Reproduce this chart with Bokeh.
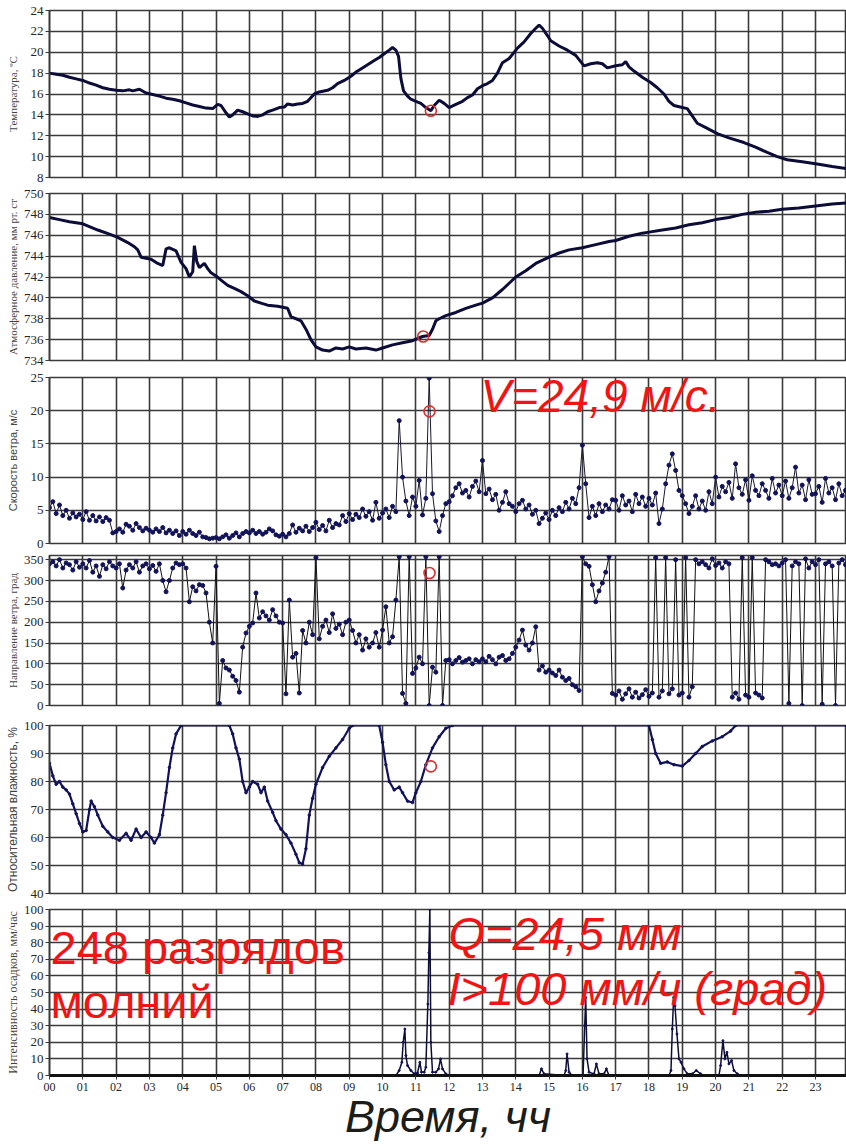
from bokeh.plotting import figure
from bokeh.layouts import column
from bokeh.models import Range1d, FixedTicker, Label
from bokeh.embed import file_html
from bokeh.resources import INLINE

# ---------------- data ----------------
HOURS = list(range(0, 25))
HOUR_LABELS = ["00", "01", "02", "03", "04", "05", "06", "07", "08", "09", "10", "11",
               "12", "13", "14", "15", "16", "17", "18", "19", "20", "21", "22", "23", "24"]

TEMP_T = [0.0, 0.2, 0.4, 0.6, 0.8, 1.0, 1.2, 1.4, 1.6, 1.8, 2.0, 2.2, 2.4, 2.5, 2.7, 2.9, 3.1, 3.3,
          3.5, 3.7, 3.9, 4.1, 4.3, 4.5, 4.7, 4.9, 5.05, 5.15, 5.3, 5.4, 5.5, 5.65, 5.8, 5.95, 6.1,
          6.25, 6.4, 6.55, 6.7, 6.9, 7.05, 7.15, 7.3, 7.45, 7.6, 7.75, 7.95, 8.1, 8.35, 8.5, 8.65,
          8.85, 9.05, 9.2, 9.35, 9.55, 9.75, 9.9, 10.05, 10.2, 10.3, 10.4, 10.48, 10.55, 10.63,
          10.75, 10.85, 11.0, 11.15, 11.3, 11.45, 11.55, 11.7, 11.85, 12.0, 12.2, 12.4, 12.55, 12.7,
          12.85, 13.0, 13.15, 13.3, 13.45, 13.6, 13.8, 14.05, 14.25, 14.45, 14.6, 14.7, 14.8, 14.95,
          15.05, 15.3, 15.55, 15.8, 16.05, 16.25, 16.45, 16.6, 16.75, 17.0, 17.2, 17.3, 17.4, 17.55,
          17.8, 18.05, 18.25, 18.45, 18.6, 18.75, 19.0, 19.15, 19.3, 19.45, 19.75, 20.05, 20.4,
          20.85, 21.2, 21.55, 21.85, 22.15, 22.6, 23.05, 23.5, 23.93]
TEMP_V = [18.0, 17.9, 17.8, 17.6, 17.45, 17.3, 17.05, 16.85, 16.6, 16.45, 16.35, 16.3, 16.4, 16.3,
          16.45, 16.1, 15.95, 15.8, 15.6, 15.5, 15.35, 15.15, 14.95, 14.8, 14.65, 14.6, 15.0, 14.9,
          14.2, 13.8, 14.0, 14.45, 14.3, 14.1, 13.9, 13.85, 14.0, 14.3, 14.45, 14.7, 14.75, 15.05,
          14.95, 15.05, 15.1, 15.3, 16.0, 16.2, 16.35, 16.6, 17.0, 17.3, 17.7, 18.1, 18.4, 18.8,
          19.2, 19.5, 19.85, 20.2, 20.45, 20.2, 19.6, 17.5, 16.3, 15.8, 15.5, 15.3, 15.1, 14.7,
          14.4, 14.9, 15.4, 15.1, 14.7, 15.0, 15.3, 15.65, 15.9, 16.5, 16.8, 17.0, 17.3, 18.0,
          19.0, 19.4, 20.4, 21.0, 21.8, 22.3, 22.6, 22.3, 21.6, 21.1, 20.6, 20.2, 19.7, 18.7,
          18.9, 19.0, 18.9, 18.5, 18.7, 18.8, 19.1, 18.6, 18.2, 17.6, 17.1, 16.6, 16.0, 15.3,
          14.9, 14.7, 14.6, 13.9, 13.2, 12.7, 12.2, 11.8, 11.35, 10.9, 10.4, 10.0, 9.7, 9.5,
          9.3, 9.05, 8.85]

PRES_T = [0.0, 0.3, 0.6, 1.0, 1.45, 1.8, 2.05, 2.35, 2.55, 2.65, 2.75, 3.05, 3.25, 3.4, 3.5, 3.6,
          3.8, 3.95, 4.1, 4.2, 4.3, 4.35, 4.42, 4.5, 4.65, 4.75, 4.85, 5.0, 5.15, 5.35, 5.55, 5.75,
          5.95, 6.15, 6.35, 6.55, 6.85, 7.15, 7.25, 7.55, 7.7, 7.85, 8.0, 8.2, 8.4, 8.6, 8.8, 9.0,
          9.2, 9.5, 9.8, 10.0, 10.3, 10.6, 10.9, 11.2, 11.4, 11.5, 11.6, 11.7, 11.9, 12.2, 12.5,
          12.8, 13.0, 13.3, 13.6, 13.8, 14.0, 14.3, 14.6, 15.0, 15.3, 15.6, 16.0, 16.4, 16.8, 17.0,
          17.4, 17.8, 18.0, 18.4, 18.8, 19.2, 19.6, 20.0, 20.4, 20.8, 21.2, 21.6, 22.0, 22.5, 23.0,
          23.5, 23.93]
PRES_V = [747.7, 747.5, 747.3, 747.1, 746.5, 746.1, 745.8, 745.3, 744.9, 744.6, 743.9, 743.7,
          743.3, 743.1, 744.7, 744.8, 744.5, 743.4, 742.8, 742.0, 742.5, 745.0, 743.5, 742.9,
          743.3, 742.8, 742.4, 742.1, 741.7, 741.2, 740.9, 740.6, 740.2, 739.7, 739.5, 739.3,
          739.2, 739.0, 738.2, 737.8, 737.0, 736.0, 735.3, 735.0, 734.9, 735.2, 735.1, 735.3,
          735.1, 735.2, 735.0, 735.2, 735.5, 735.7, 735.9, 736.3, 736.4, 737.0, 737.8, 738.0,
          738.3, 738.6, 739.0, 739.3, 739.5, 740.0, 740.8, 741.4, 742.0, 742.6, 743.3, 743.9,
          744.3, 744.6, 744.8, 745.1, 745.4, 745.5, 745.9, 746.2, 746.3, 746.5, 746.7, 747.0,
          747.2, 747.5, 747.7, 748.0, 748.2, 748.3, 748.5, 748.6, 748.8, 749.0, 749.1]

# wind speed, m/s : ten readings per hour
WIND_SPEED = [
    [5.4, 6.3, 4.5, 5.8, 4.2, 5.0, 3.8, 4.6, 4.0, 4.4],
    [3.6, 4.8, 3.5, 4.2, 3.4, 4.0, 3.3, 3.9, 3.5, 1.6],
    [1.8, 2.2, 1.7, 2.9, 2.6, 2.0, 3.0, 2.4, 1.9, 2.3],
    [2.0, 1.7, 2.2, 1.8, 2.4, 1.6, 2.0, 1.5, 1.9, 1.2],
    [1.8, 1.4, 2.0, 1.5, 1.2, 1.7, 1.0, 0.9, 0.7, 0.8],
    [0.9, 0.7, 1.0, 1.3, 0.8, 1.2, 1.6, 1.0, 1.5, 1.8],
    [1.6, 2.0, 1.5, 1.8, 1.4, 1.7, 2.2, 1.9, 1.3, 1.1],
    [1.4, 1.0, 1.5, 2.8, 1.7, 2.3, 1.9, 2.6, 1.8, 2.4],
    [3.2, 2.1, 2.7, 1.9, 3.5, 2.4, 3.0, 2.8, 4.2, 3.3],
    [4.5, 3.6, 4.4, 3.9, 5.2, 4.1, 4.8, 3.5, 6.2, 3.8],
    [4.6, 5.2, 3.9, 5.6, 4.8, 18.5, 10.0, 6.4, 4.2, 7.0],
    [5.6, 9.5, 4.3, 6.8, 24.9, 7.5, 3.4, 1.8, 4.2, 6.0],
    [6.3, 7.2, 8.4, 9.0, 7.6, 8.0, 7.0, 8.6, 9.4, 7.8],
    [12.5, 7.5, 8.2, 6.6, 7.4, 5.0, 6.2, 7.8, 6.0, 5.6],
    [4.8, 6.0, 6.5, 5.2, 5.8, 4.4, 5.0, 3.0, 3.8, 4.6],
    [3.6, 5.0, 4.2, 5.4, 4.8, 6.2, 5.2, 6.8, 6.0, 8.4],
    [14.8, 9.0, 3.9, 5.6, 4.2, 6.0, 4.8, 5.8, 5.2, 6.6],
    [6.5, 5.0, 7.2, 5.8, 6.4, 4.8, 7.4, 6.0, 7.0, 5.6],
    [6.8, 5.8, 7.6, 3.0, 5.2, 9.0, 11.8, 13.5, 11.0, 8.0],
    [7.2, 6.0, 4.5, 5.6, 7.2, 5.2, 6.4, 5.0, 7.8, 6.0],
    [10.0, 7.0, 8.6, 7.8, 9.2, 6.8, 12.0, 8.4, 7.4, 9.6],
    [6.5, 10.2, 8.0, 7.2, 9.0, 8.0, 6.8, 9.8, 7.6, 8.8],
    [7.2, 9.4, 6.8, 8.4, 11.5, 7.6, 8.8, 6.6, 9.6, 7.4],
    [7.5, 8.6, 6.2, 9.8, 7.6, 8.4, 6.6, 9.0, 7.2, 8.0],
]

# wind direction, degrees : ten readings per hour
WIND_DIR = [
    [340, 345, 335, 350, 330, 342, 338, 325, 345, 332],
    [340, 330, 348, 320, 335, 310, 338, 328, 345, 335],
    [330, 340, 282, 325, 338, 330, 345, 320, 335, 340],
    [328, 336, 322, 340, 300, 273, 300, 330, 342, 338],
    [340, 330, 249, 285, 275, 290, 288, 270, 200, 150],
    [334, 5, 108, 90, 85, 70, 60, 32, 140, 174],
    [190, 198, 270, 210, 225, 215, 205, 230, 215, 200],
    [198, 28, 253, 116, 125, 30, 180, 150, 200, 170],
    [355, 160, 190, 205, 175, 220, 185, 195, 170, 200],
    [205, 180, 150, 170, 133, 160, 140, 150, 175, 140],
    [181, 237, 150, 165, 253, 357, 29, 5, 357, 77],
    [90, 116, 100, 357, 0, 92, 80, 357, 0, 108],
    [110, 100, 108, 115, 104, 108, 112, 100, 110, 105],
    [112, 105, 118, 110, 100, 116, 120, 108, 112, 125],
    [140, 157, 181, 145, 133, 150, 189, 85, 95, 80],
    [85, 78, 72, 85, 68, 60, 65, 50, 45, 36],
    [357, 340, 334, 290, 249, 275, 294, 320, 357, 29],
    [25, 35, 15, 28, 40, 20, 32, 18, 26, 38],
    [22, 30, 355, 20, 35, 355, 28, 40, 350, 25],
    [30, 355, 20, 45, 350, 340, 345, 338, 330, 352],
    [336, 342, 330, 345, 340, 20, 30, 15, 355, 25],
    [20, 355, 30, 25, 18, 350, 345, 338, 340, 335],
    [342, 350, 5, 335, 345, 340, 0, 352, 330, 345],
    [338, 350, 3, 340, 345, 335, 0, 342, 350, 338],
]

HUM_T = [0.0, 0.1, 0.2, 0.3, 0.4, 0.5, 0.6, 0.7, 0.8, 0.9, 1.0, 1.1, 1.2, 1.25, 1.35, 1.45, 1.6,
         1.75, 1.9, 2.1, 2.3, 2.45, 2.6, 2.75, 2.9, 3.05, 3.15, 3.3, 3.4, 3.5, 3.6, 3.7, 3.8, 3.95,
         5.4, 5.5, 5.6, 5.7, 5.8, 5.9, 6.0, 6.1, 6.25, 6.35, 6.45, 6.55, 6.7, 6.8, 6.95, 7.1, 7.25,
         7.4, 7.5, 7.6, 7.7, 7.8, 7.9, 8.0, 8.2, 8.4, 8.6, 8.8, 9.0, 9.1, 9.9, 10.0, 10.1, 10.2,
         10.35, 10.5, 10.6, 10.75, 10.9, 11.0, 11.15, 11.3, 11.5, 11.7, 11.9, 12.1, 18.0, 18.1,
         18.2, 18.35, 18.55, 18.75, 19.0, 19.2, 19.4, 19.6, 19.9, 20.2, 20.45, 20.6, 23.93]
HUM_V = [86.5, 82, 79, 80, 78, 77, 75.5, 72, 68.5, 65, 62, 62.5, 70, 73, 71, 68, 64, 62, 60, 59,
         61.5, 59, 63, 60, 62, 60, 58, 61, 68, 76, 85, 92, 97, 100, 100, 97, 92, 88, 80, 76, 78,
         80, 79, 76, 78, 73, 69, 66, 63, 61, 58, 54, 51, 50.5, 56, 68, 74, 79, 85, 89, 92, 95, 99,
         100, 100, 94, 86, 80, 77, 78, 76, 73, 72.5, 76, 80, 86, 92, 96, 99, 100, 100, 95, 90,
         86.5, 87, 86, 85.5, 87.5, 90, 92.5, 94.5, 96, 98, 100, 100]

RAIN_T = [0, 10.4, 10.5, 10.58, 10.62, 10.67, 10.7, 10.75, 10.85, 10.95, 11.05, 11.12, 11.17,
          11.25, 11.3, 11.36, 11.39, 11.42, 11.45, 11.5, 11.6, 11.68, 11.74, 11.8, 11.9, 12.0,
          14.7, 14.77, 14.85, 15.45, 15.5, 15.54, 15.6, 15.7, 16.02, 16.07, 16.1, 16.14, 16.2,
          16.35, 16.42, 16.5, 16.65, 16.72, 16.8, 18.6, 18.66, 18.7, 18.74, 18.78, 18.84, 18.9,
          18.96, 19.05, 19.15, 19.3, 19.42, 19.55, 19.65, 20.1, 20.15, 20.22, 20.28, 20.34, 20.4,
          20.48, 20.55, 20.65, 20.8, 23.93]
RAIN_V = [0, 0, 3, 8, 20, 28, 12, 6, 3, 1, 1.5, 8, 2, 2, 5, 43, 74, 100, 20, 2, 2, 4, 10, 4, 1, 0,
          0, 4, 1, 0, 3, 13, 2, 0, 0, 30, 47, 10, 2, 1, 7, 1, 1, 4, 0, 0, 3, 28, 47, 42, 25, 10,
          8, 4, 1, 1, 3, 1, 0, 0, 6, 21, 10, 14, 7, 9, 3, 1, 0, 0]

# red markers (moment of the squall)
MARK_T = [11.45, 11.22, 11.41, 11.41, 11.45]
MARK_V = [14.4, 736.3, 19.9, 318, 85.4]

# ---------------- style ----------------
GRID = "#3a3a3a"
NAVY = "#12125a"
DARK = "#0c0c38"
RED = "#f01414"
SERIF = "Liberation Serif"
SANS = "Liberation Sans"

X_RANGE = Range1d(0, 23.93)


def make_fig(height, top, bottom, yr, yticks, ylabel, lab_size, lab_standoff, lab_font=SERIF):
    p = figure(width=846, height=height, x_range=X_RANGE, y_range=Range1d(*yr),
               output_backend="svg", toolbar_location=None,
               min_border_left=49, min_border_right=0,
               min_border_top=top, min_border_bottom=bottom)
    p.background_fill_color = "white"
    p.border_fill_color = "white"
    p.outline_line_color = GRID
    p.outline_line_width = 1.6
    p.xgrid.ticker = FixedTicker(ticks=HOURS)
    p.ygrid.ticker = FixedTicker(ticks=yticks)
    for g in (p.xgrid, p.ygrid):
        g.grid_line_color = GRID
        g.grid_line_width = 1.6
        g.grid_line_alpha = 1.0
    p.yaxis.ticker = FixedTicker(ticks=yticks)
    p.yaxis.axis_line_color = GRID
    p.yaxis.axis_line_width = 1.6
    p.yaxis.major_tick_line_color = GRID
    p.yaxis.major_tick_line_width = 1.2
    p.yaxis.major_tick_out = 4
    p.yaxis.major_tick_in = 0
    p.yaxis.minor_tick_line_color = None
    p.yaxis.major_label_standoff = 2
    p.yaxis.major_label_text_font = SERIF
    p.yaxis.major_label_text_font_size = "13px"
    p.yaxis.major_label_text_color = "#262626"
    p.yaxis.axis_label = ylabel
    p.yaxis.axis_label_text_font = lab_font
    p.yaxis.axis_label_text_font_size = "%dpx" % lab_size
    p.yaxis.axis_label_text_font_style = "normal"
    p.yaxis.axis_label_text_color = "#444444"
    p.yaxis.axis_label_standoff = lab_standoff
    return p


# 1 temperature
p1 = make_fig(185, 10, 8, (8, 24), [8, 10, 12, 14, 16, 18, 20, 22, 24],
              "Температура, ºС", 11, 9)
p1.xaxis.visible = False
p1.line(TEMP_T, TEMP_V, line_color=DARK, line_width=3)

# 2 pressure
p2 = make_fig(183, 8, 8, (734, 750), [734, 736, 738, 740, 742, 744, 746, 748, 750],
              "Атмосферное давление, мм рт. ст", 11, 2)
p2.xaxis.visible = False
p2.line(PRES_T, PRES_V, line_color=DARK, line_width=3)

# 3 wind speed
ws_t = [h + k / 10 for h in range(24) for k in range(10)]
ws_v = [v for row in WIND_SPEED for v in row]
p3 = make_fig(181, 9, 6, (0, 25), [0, 5, 10, 15, 20, 25],
              "Скорость ветра, м/с", 11, 9, SANS)
p3.xaxis.visible = False
p3.line(ws_t, ws_v, line_color="#181830", line_width=1)
p3.scatter(ws_t, ws_v, size=4, fill_color=NAVY, line_color=NAVY)

# 4 wind direction
wd_v = [v for row in WIND_DIR for v in row]
p4 = make_fig(166, 6, 10, (0, 360), [0, 50, 100, 150, 200, 250, 300, 350],
              "Направление ветра, град", 11, 2)
p4.xaxis.visible = False
p4.line(ws_t, wd_v, line_color="#111111", line_width=1)
p4.scatter(ws_t, wd_v, size=4, fill_color=NAVY, line_color=NAVY)

# 5 humidity
p5 = make_fig(186, 10, 8, (40, 100), [40, 50, 60, 70, 80, 90, 100],
              "Относительная влажность, %", 12, 1, SANS)
p5.xaxis.visible = False
p5.line(HUM_T, HUM_V, line_color=NAVY, line_width=2.2)
p5.scatter(HUM_T, HUM_V, size=2.5, fill_color=NAVY, line_color=NAVY)

# 6 precipitation
p6 = make_fig(245, 8, 71, (0, 100), [0, 10, 20, 30, 40, 50, 60, 70, 80, 90, 100],
              "Интенсивность осадков, мм/час", 12, 1)
p6.xaxis.ticker = FixedTicker(ticks=HOURS)
p6.xaxis.major_label_overrides = {h: lab for h, lab in zip(HOURS, HOUR_LABELS)}
p6.xaxis.major_label_text_font = SERIF
p6.xaxis.major_label_text_font_size = "12px"
p6.xaxis.major_label_text_color = "#262626"
p6.xaxis.major_label_standoff = 3
p6.xaxis.major_tick_out = 4
p6.xaxis.major_tick_in = 0
p6.xaxis.minor_tick_line_color = None
p6.xaxis.axis_line_color = "#111111"
p6.xaxis.axis_line_width = 3
p6.xaxis.major_tick_line_color = GRID
p6.xaxis.axis_label = "Время, чч"
p6.xaxis.axis_label_text_font = SANS
p6.xaxis.axis_label_text_font_size = "45px"
p6.xaxis.axis_label_text_font_style = "italic"
p6.xaxis.axis_label_text_color = "#1c1c18"
p6.xaxis.axis_label_standoff = -3
p6.line(RAIN_T, RAIN_V, line_color=DARK, line_width=1.5)
p6.scatter(RAIN_T, RAIN_V, size=2, fill_color=NAVY, line_color=NAVY)

# red markers
for p, t, v in zip([p1, p2, p3, p4, p5], MARK_T, MARK_V):
    p.scatter([t], [v], size=11, fill_color=None, line_color="#d83030", line_width=1.6)


# annotations (y = vertical centre of the capital letters)
def red_label(p, x, y, text, size, italic=True):
    p.add_layout(Label(x=x, y=y, text=text, text_color=RED,
                       text_font=SANS, text_font_size=size,
                       text_font_style="italic" if italic else "normal",
                       text_baseline="alphabetic", text_align="left"))


red_label(p3, 12.94, 22.2, "V=24,9 м/с.", "46px")
red_label(p6, 0.03, 77.4, "248 разрядов", "47px", italic=False)
red_label(p6, 0.03, 44.3, "молний", "47px", italic=False)
red_label(p6, 11.98, 85.3, "Q=24,5 мм", "47px")
red_label(p6, 11.95, 52.7, "I>100 мм/ч (град)", "47px")

layout = column(p1, p2, p3, p4, p5, p6, spacing=0)
open("out.html", "w").write(file_html(layout, INLINE))
